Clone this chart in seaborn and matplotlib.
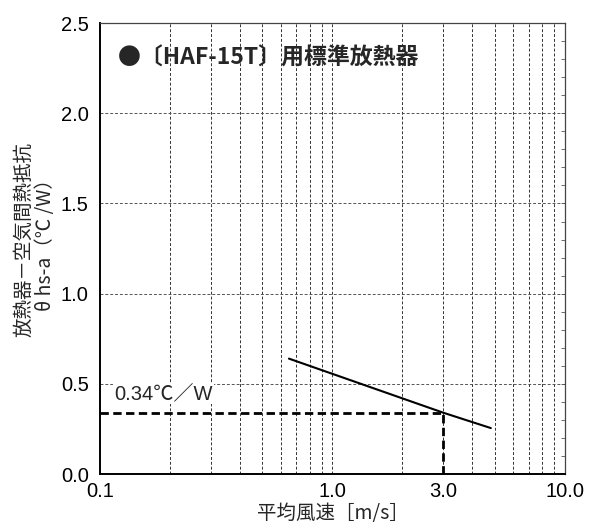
import matplotlib
matplotlib.use("Agg")
import matplotlib.pyplot as plt
import numpy as np
import pandas as pd
import seaborn as sns
from matplotlib.ticker import FixedLocator, NullFormatter

sns.set_style("white")
plt.rcParams["font.family"] = ["Liberation Sans", "Noto Sans CJK JP", "DejaVu Sans"]

# Heat sink thermal resistance vs. mean air velocity
air_speed = [0.65, 3.0, 4.8]           # m/s
resistance = [0.64, 0.34, 0.255]        # °C/W

# Operating point called out on the chart
op_speed = 3.0
op_resistance = 0.34

x_ticks = [0.1, 1.0, 3.0, 10.0]
x_tick_labels = ["0.1", "1.0", "3.0", "10.0"]
y_ticks = [0.0, 0.5, 1.0, 1.5, 2.0, 2.5]
y_tick_labels = ["0.0", "0.5", "1.0", "1.5", "2.0", "2.5"]
x_grid = [0.2, 0.3, 0.4, 0.5, 0.6, 0.7, 0.8, 0.9, 1, 2, 3, 4, 5, 6, 7, 8, 9]
y_grid = [0.5, 1.0, 1.5, 2.0]

LATIN = ["Liberation Sans", "Noto Sans CJK JP", "DejaVu Sans"]
CJK = ["Noto Sans CJK JP", "DejaVu Sans"]

df = pd.DataFrame({"speed": air_speed, "resistance": resistance})

fig = plt.figure(figsize=(5.95, 5.25), dpi=100)
ax = fig.add_axes([0.168, 0.097, 0.7815, 0.859])

ax.set_xscale("log")
ax.set_xlim(0.1, 10.0)
ax.set_ylim(0.0, 2.5)

grid_kw = dict(color="#333333", lw=0.7, ls=(0, (3, 2)), zorder=1)
for gx in x_grid:
    ax.axvline(gx, **grid_kw)
for gy in y_grid:
    ax.axhline(gy, color="#555555", lw=0.7, ls=(0, (3, 2)), zorder=1)

sns.lineplot(data=df, x="speed", y="resistance", ax=ax, color="black",
             lw=1.5, zorder=4)

# Dashed guides to the operating point
ax.plot([0.1, op_speed], [op_resistance, op_resistance], color="black",
        lw=2.0, ls=(0, (3, 1.6)), zorder=3)
ax.plot([op_speed, op_speed], [0.0, op_resistance], color="black",
        lw=2.0, ls=(0, (3, 1.6)), zorder=3)

ax.text(0.1155, 0.447, f"{op_resistance:.2f}℃／W", fontsize=14.5,
        va="center", ha="left", family=LATIN, zorder=5,
        bbox=dict(facecolor="white", edgecolor="none", pad=1.0))

ax.text(0.039, 0.922, "●〔HAF-15T〕用標準放熱器", transform=ax.transAxes,
        fontsize=16.5, fontweight="bold", va="center", ha="left",
        family=CJK, zorder=5)

ax.xaxis.set_major_locator(FixedLocator(x_ticks))
ax.xaxis.set_minor_formatter(NullFormatter())
ax.xaxis.set_minor_locator(FixedLocator([]))
ax.set_xticklabels(x_tick_labels, family=LATIN)
ax.set_yticks(y_ticks)
ax.set_yticklabels(y_tick_labels, family=LATIN)
ax.tick_params(axis="both", length=0, labelsize=14.5, colors="black")
ax.tick_params(axis="x", pad=6)
ax.tick_params(axis="y", pad=8)

# Small inward ticks along the right edge
ax_r = ax.secondary_yaxis("right")
ax_r.set_yticks(np.arange(0.1, 2.5, 0.1))
ax_r.tick_params(direction="in", length=3, width=0.6, labelright=False,
                 color="#555555")
ax_r.spines["right"].set_visible(False)

ax.set_xlabel("平均風速［m/s］", fontsize=14, labelpad=1, family=CJK)
ax.set_ylabel("放熱器－空気間熱抵抗\nθ hs-a（℃ /W）", fontsize=14,
              linespacing=1.05, family=CJK)
ax.yaxis.set_label_coords(-0.095, 0.52)

for side in ["left", "bottom"]:
    ax.spines[side].set_color("black")
    ax.spines[side].set_linewidth(1.4)
for side in ["top", "right"]:
    ax.spines[side].set_color("#444444")
    ax.spines[side].set_linewidth(0.9)
    ax.spines[side].set_visible(True)

fig.savefig("out.png", dpi=100, facecolor="white")
